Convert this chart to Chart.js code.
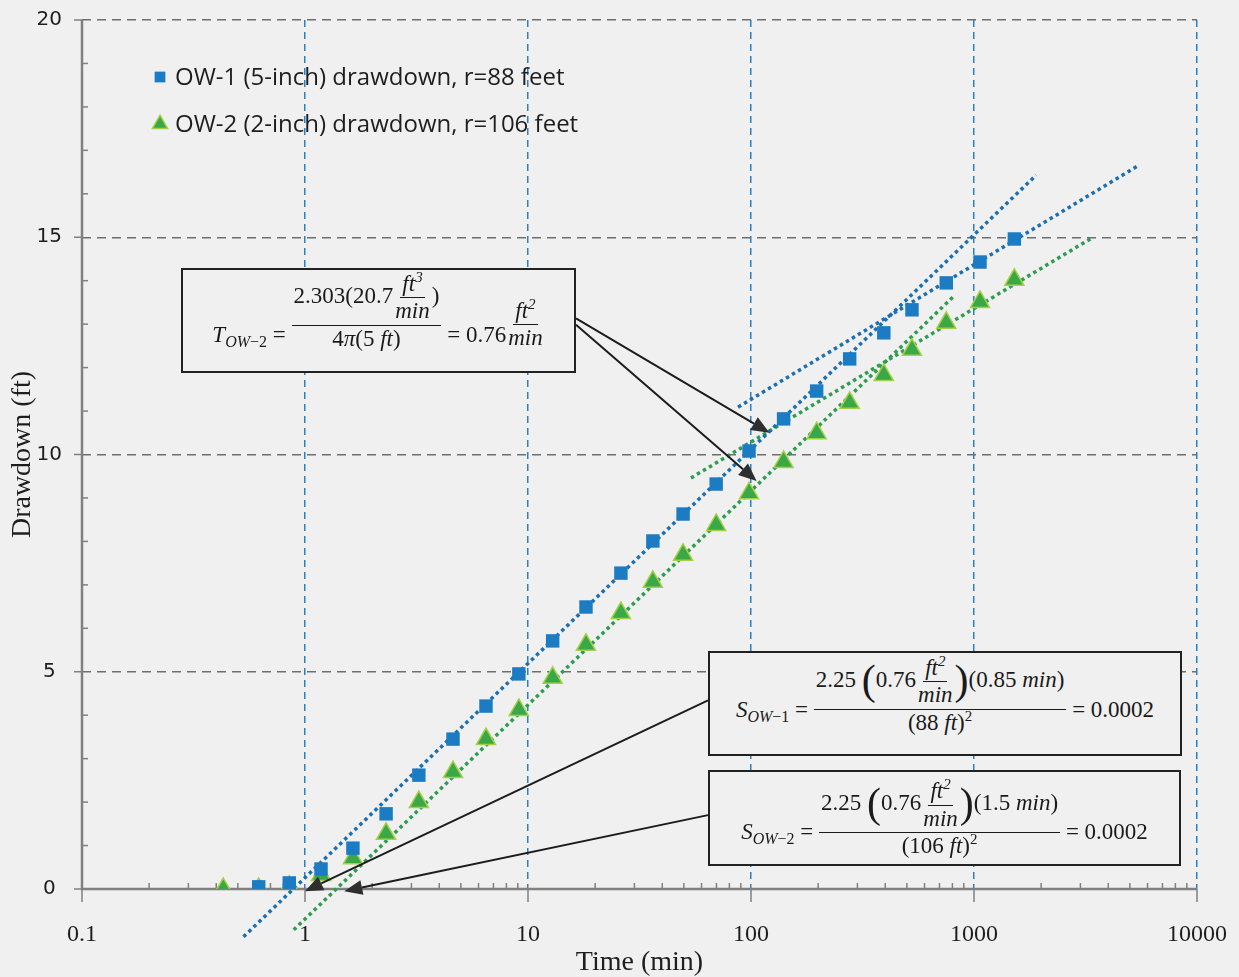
<!DOCTYPE html>
<html>
<head>
<meta charset="utf-8">
<title>Drawdown vs time</title>
<script src="https://cdn.jsdelivr.net/npm/chart.js@4.4.1/dist/chart.umd.min.js"></script>
<style>
  html, body { margin: 0; padding: 0; background: #f0f0f0; }
  #wrap { position: relative; width: 1239px; height: 977px; }
  #wrap canvas { position: absolute; left: 0; top: 0; }
  .eq { position: absolute; box-sizing: border-box; border: 2px solid #222; background: #f0f0f0;
        display: flex; align-items: center; justify-content: center;
        font-family: "Liberation Serif", "Times New Roman", serif; font-size: 23px; color: #1a1a1a; white-space: nowrap; }
  .m { position: relative; }
  .i { font-style: italic; }
  .frac { display: inline-flex; flex-direction: column; align-items: center; vertical-align: middle; position: relative; }
  .frac > span { display: block; line-height: 1.15; padding: 0 2px; }
  .frac > span:first-child { border-bottom: 1.5px solid #1a1a1a; }
  sub { font-size: 16px; vertical-align: -5px; line-height: 0; }
  sup { font-size: 15px; vertical-align: 9px; line-height: 0; }
  .bp { font-size: 42px; line-height: 0; vertical-align: -7px; font-weight: 300; }
</style>
</head>
<body>
<div id="wrap">
  <canvas id="cDraw" width="1239" height="977"></canvas>

  <div class="eq" id="eqT" style="left:181px;top:268px;width:395px;height:105px;">
    <span class="m" style="top:16px;"><span class="i">T</span><sub><span class="i">OW</span>−2</sub> = <span class="frac" style="top:-25px;"><span>2.303(20.7<span class="frac"><span class="i">ft<sup>3</sup></span><span class="i">min</span></span>)</span><span>4<span class="i">π</span>(5 <span class="i">ft</span>)</span></span> = 0.76<span class="frac" style="top:-12px;"><span class="i">ft<sup>2</sup></span><span class="i">min</span></span></span>
  </div>

  <div class="eq" id="eqS1" style="left:708px;top:651px;width:474px;height:105px;">
    <span class="m" style="top:8px;"><span class="i">S</span><sub><span class="i">OW</span>−1</sub> = <span class="frac" style="top:-16px;"><span>2.25 <span class="bp">(</span>0.76<span class="frac"><span class="i">ft<sup>2</sup></span><span class="i">min</span></span><span class="bp">)</span>(0.85 <span class="i">min</span>)</span><span>(88 <span class="i">ft</span>)<sup>2</sup></span></span> = 0.0002</span>
  </div>

  <div class="eq" id="eqS2" style="left:708px;top:770px;width:473px;height:96px;">
    <span class="m" style="top:16px;"><span class="i">S</span><sub><span class="i">OW</span>−2</sub> = <span class="frac" style="top:-15px;"><span>2.25 <span class="bp">(</span>0.76<span class="frac"><span class="i">ft<sup>2</sup></span><span class="i">min</span></span><span class="bp">)</span>(1.5 <span class="i">min</span>)</span><span>(106 <span class="i">ft</span>)<sup>2</sup></span></span> = 0.0002</span>
  </div>
</div>

<script>
/* Pumping-test drawdown in two observation wells, semi-log (Cooper–Jacob) plot. */

// elapsed time since pumping started (min), shared by both wells
var TIME_MIN = [0.43, 0.62, 0.85, 1.18, 1.64, 2.31, 3.24, 4.61, 6.48, 9.1, 12.9, 18.2, 26.1,
                36.3, 49.6, 69.8, 98, 140, 197, 277, 394, 527, 751, 1064, 1517];
// drawdown (ft); OW-1 has no reading at the first time
var OW1_FT = [null, 0.05, 0.14, 0.46, 0.94, 1.73, 2.62, 3.45, 4.21, 4.95, 5.71, 6.49, 7.27,
              8.01, 8.63, 9.32, 10.08, 10.82, 11.46, 12.20, 12.80, 13.33, 13.95, 14.43, 14.96];
var OW2_FT = [0, 0, 0.05, 0.32, 0.71, 1.27, 2.00, 2.69, 3.45, 4.12, 4.86, 5.62, 6.35,
              7.07, 7.69, 8.38, 9.11, 9.83, 10.49, 11.19, 11.83, 12.41, 13.03, 13.51, 14.02];

// straight-line fits, [time, drawdown] at each end
var FIT_OW1_EARLY = [[0.53, -1.10], [1900, 16.43]];
var FIT_OW1_LATE  = [[87.5, 11.09], [5500, 16.66]];
var FIT_OW2_EARLY = [[0.89, -0.94], [822, 13.67]];
var FIT_OW2_LATE  = [[53.8, 9.46], [3420, 15.00]];

// where each callout arrow points, [time, drawdown]
var ARROW_TIPS = [[121, 10.5], [106, 9.39], [1.0, -0.05], [1.5, -0.05]];

var SERIES_LABELS = ["OW-1 (5-inch) drawdown, r=88 feet", "OW-2 (2-inch) drawdown, r=106 feet"];
var X_TICK_LABELS = ["0.1", "1", "10", "100", "1000", "10000"];
var Y_TICK_LABELS = ["0", "5", "10", "15", "20"];

(function () {
  var BLUE = "#1b7cc4", BLUE_FIT = "#1d6fb0", GREEN = "#3aa847", GREEN_EDGE = "#a5d046",
      GREEN_FIT = "#2f9c52", GRID_GRAY = "#6e6e6e", GRID_BLUE = "#2a80c2", AXIS = "#808080",
      INK = "#1e1e1e", SERIF = '"Liberation Serif", "Times New Roman", serif';

  var X_MAJOR = X_TICK_LABELS.map(parseFloat);
  var X_TICKS = [];
  X_MAJOR.forEach(function (d, k) {
    X_TICKS.push(d);
    if (k < X_MAJOR.length - 1) for (var m = 2; m <= 9; m++) X_TICKS.push(d * m);
  });
  var Y_MAJOR = Y_TICK_LABELS.map(parseFloat);

  function majorIndex(v) {
    for (var k = 0; k < X_MAJOR.length; k++) if (Math.abs(v - X_MAJOR[k]) < 1e-9 * X_MAJOR[k]) return k;
    return -1;
  }
  function points(ys) {
    var out = [];
    TIME_MIN.forEach(function (t, i) { if (ys[i] != null) out.push({ x: t, y: ys[i] }); });
    return out;
  }
  function fit(pairs, color) {
    return { data: pairs.map(function (p) { return { x: p[0], y: p[1] }; }),
      showLine: true, borderColor: color, borderWidth: 3.5, borderDash: [3.5, 3.5],
      borderCapStyle: "butt", pointRadius: 0, clip: false };
  }
  // the outer layout padding alone decides where the plot sits
  function noEdgePadding(s) { s.paddingLeft = s.paddingRight = s.paddingTop = s.paddingBottom = 0; }

  // axis lines plus tick marks: majors point outward, minors inward
  var axisFrame = {
    id: "axisFrame",
    beforeDatasetsDraw: function (chart) {
      var ctx = chart.ctx, a = chart.chartArea, xs = chart.scales.x, ys = chart.scales.y;
      ctx.save();
      ctx.strokeStyle = AXIS;
      ctx.lineWidth = 1.5;
      xs.ticks.forEach(function (t) {
        var px = xs.getPixelForValue(t.value);
        ctx.beginPath();
        if (majorIndex(t.value) >= 0) { ctx.moveTo(px, a.bottom); ctx.lineTo(px, a.bottom + 13); }
        else { ctx.moveTo(px, a.bottom); ctx.lineTo(px, a.bottom - 6); }
        ctx.stroke();
      });
      ys.ticks.forEach(function (t) {
        var py = ys.getPixelForValue(t.value);
        ctx.beginPath();
        if (Y_MAJOR.indexOf(t.value) >= 0) { ctx.moveTo(a.left - 8, py); ctx.lineTo(a.left, py); }
        else { ctx.moveTo(a.left, py); ctx.lineTo(a.left + 6, py); }
        ctx.stroke();
      });
      ctx.lineWidth = 2.5;
      ctx.beginPath();
      ctx.moveTo(a.left, a.top); ctx.lineTo(a.left, a.bottom); ctx.lineTo(a.right, a.bottom);
      ctx.stroke();
      ctx.restore();
    }
  };

  // legend tucked into the upper-left corner of the plot
  var cornerLegend = {
    id: "cornerLegend",
    afterDatasetsDraw: function (chart) {
      var ctx = chart.ctx, a = chart.chartArea;
      SERIES_LABELS.forEach(function (label, i) {
        var ds = chart.data.datasets[i];
        var x = a.left + 78, y = a.top + 57 + i * 47;
        ctx.save();
        ctx.fillStyle = ds.backgroundColor;
        ctx.strokeStyle = ds.borderColor;
        ctx.lineWidth = ds.pointBorderWidth;
        Chart.helpers.drawPoint(ctx, { pointStyle: ds.pointStyle, radius: ds.pointRadius * 0.8,
          borderWidth: ds.pointBorderWidth, rotation: 0 }, x, y);
        ctx.fillStyle = INK;
        ctx.font = '24px "Open Sans", sans-serif';
        ctx.textBaseline = "middle";
        ctx.fillText(label, x + 15, y + 1);
        ctx.restore();
      });
    }
  };

  // callout arrows from the equation boxes to the fitted lines
  var ARROW_FROM = [
    { box: "eqT", edge: "right", at: 0.48 },
    { box: "eqT", edge: "right", at: 0.54 },
    { box: "eqS1", edge: "left", at: 0.47 },
    { box: "eqS2", edge: "left", at: 0.47 }
  ];
  var callouts = {
    id: "callouts",
    afterDatasetsDraw: function (chart) {
      var ctx = chart.ctx, xs = chart.scales.x, ys = chart.scales.y;
      ctx.save();
      ctx.strokeStyle = "#1c1c1c";
      ctx.fillStyle = "#2e2e2e";
      ctx.lineWidth = 2;
      ARROW_FROM.forEach(function (f, i) {
        var el = document.getElementById(f.box);
        var x0 = el.offsetLeft + (f.edge === "right" ? el.offsetWidth : 0);
        var y0 = el.offsetTop + el.offsetHeight * f.at;
        var x1 = xs.getPixelForValue(ARROW_TIPS[i][0]), y1 = ys.getPixelForValue(ARROW_TIPS[i][1]);
        var ang = Math.atan2(y1 - y0, x1 - x0), L = 18, W = 7.5;
        var bx = x1 - L * Math.cos(ang), by = y1 - L * Math.sin(ang);
        ctx.beginPath(); ctx.moveTo(x0, y0); ctx.lineTo(bx, by); ctx.stroke();
        ctx.beginPath();
        ctx.moveTo(x1, y1);
        ctx.lineTo(bx + W * Math.sin(ang), by - W * Math.cos(ang));
        ctx.lineTo(bx - W * Math.sin(ang), by + W * Math.cos(ang));
        ctx.closePath(); ctx.fill();
      });
      ctx.restore();
    }
  };

  new Chart(document.getElementById("cDraw"), {
    type: "scatter",
    data: { datasets: [
      { label: SERIES_LABELS[0], data: points(OW1_FT), pointStyle: "rect", pointRadius: 9.5,
        backgroundColor: BLUE, borderColor: BLUE, pointBorderWidth: 0 },
      { label: SERIES_LABELS[1], data: points(OW2_FT), pointStyle: "triangle", pointRadius: 11,
        backgroundColor: GREEN, borderColor: GREEN_EDGE, pointBorderWidth: 1.5 },
      fit(FIT_OW1_EARLY, BLUE_FIT),
      fit(FIT_OW1_LATE, BLUE_FIT),
      fit(FIT_OW2_EARLY, GREEN_FIT),
      fit(FIT_OW2_LATE, GREEN_FIT)
    ] },
    options: {
      responsive: false, animation: false, events: [],
      layout: { padding: { top: 20, right: 42, left: 0, bottom: 0 } },
      plugins: { legend: { display: false }, tooltip: { enabled: false } },
      scales: {
        x: {
          type: "logarithmic", min: 0.1, max: 10000,
          afterBuildTicks: function (s) { s.ticks = X_TICKS.map(function (v) { return { value: v }; }); },
          afterFit: function (s) { s.height = 88; noEdgePadding(s); },
          ticks: { autoSkip: false, maxRotation: 0, padding: 31, color: INK,
            font: { family: SERIF, size: 24 },
            callback: function (v) { var k = majorIndex(v); return k < 0 ? "" : X_TICK_LABELS[k]; } },
          grid: { drawTicks: false, lineWidth: 1.5,
            color: function (c) { return c.tick && majorIndex(c.tick.value) > 0 ? GRID_BLUE : "transparent"; } },
          border: { display: false, dash: [7, 5] },
          title: { display: true, text: "Time (min)", color: INK, padding: { top: 0, bottom: 0 },
            font: { family: SERIF, size: 28, lineHeight: 1 } }
        },
        y: {
          min: 0, max: 20,
          afterBuildTicks: function (s) {
            var t = []; for (var v = 0; v <= 20; v++) t.push({ value: v }); s.ticks = t;
          },
          afterFit: function (s) { s.width = 82; noEdgePadding(s); },
          ticks: { autoSkip: false, padding: 20, crossAlign: "center", color: INK,
            font: { family: '"DejaVu Sans", sans-serif', size: 20 },
            callback: function (v) { var k = Y_MAJOR.indexOf(v); return k < 0 ? "" : Y_TICK_LABELS[k]; } },
          grid: { drawTicks: false, lineWidth: 1.5,
            color: function (c) { return c.tick && c.tick.value > 0 && Y_MAJOR.indexOf(c.tick.value) >= 0 ? GRID_GRAY : "transparent"; } },
          border: { display: false, dash: [9, 6] },
          title: { display: true, text: "Drawdown (ft)", color: INK, padding: { top: 9, bottom: 0 },
            font: { family: SERIF, size: 28, lineHeight: 1 } }
        }
      }
    },
    plugins: [axisFrame, cornerLegend, callouts]
  });
})();
</script>
</body>
</html>
